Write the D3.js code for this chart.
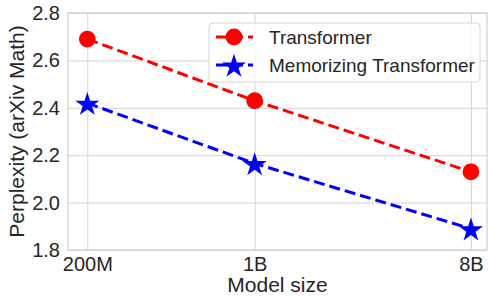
<!DOCTYPE html>
<html>
<head>
<meta charset="utf-8">
<script src="https://cdn.jsdelivr.net/npm/d3@7"></script>
<style>
  body { margin: 0; background: #fff; }
  text { font-family: Arial, "Liberation Sans", sans-serif; fill: #262626; }
</style>
</head>
<body>
<div id="chart"></div>
<script>
// data
var sizes = [2e8, 1e9, 8e9];
var sizeLabels = ["200M", "1B", "8B"];
var transformer = [2.69, 2.43, 2.13];
var memorizing = [2.42, 2.165, 1.89];
var yTicks = [1.8, 2.0, 2.2, 2.4, 2.6, 2.8];
var seriesNames = ["Transformer", "Memorizing Transformer"];

var W = 488, H = 296;
var margin = {top: 13, right: 1, bottom: 46, left: 68};
var width = W - margin.left - margin.right;
var height = H - margin.top - margin.bottom;

var x = d3.scaleLog().domain([2e8 / 1.204, 8e9 * 1.167]).range([0, width]);
var y = d3.scaleLinear().domain([1.8, 2.8]).range([height, 0]);

var svg = d3.select("#chart").append("svg")
    .attr("width", W)
    .attr("height", H);

var g = svg.append("g")
    .attr("transform", "translate(" + margin.left + "," + margin.top + ")");

// gridlines
g.append("g")
    .attr("class", "grid")
    .attr("transform", "translate(0," + height + ")")
    .call(d3.axisBottom(x).tickValues(sizes).tickSize(-height).tickFormat(""));
g.append("g")
    .attr("class", "grid")
    .call(d3.axisLeft(y).tickValues(yTicks).tickSize(-width).tickFormat(""));
g.selectAll(".grid line").attr("stroke", "#d6d6d6").attr("stroke-width", 1);
g.selectAll(".grid path").remove();

// spines
g.append("rect")
    .attr("width", width)
    .attr("height", height)
    .attr("fill", "none")
    .attr("stroke", "#d0d0d0")
    .attr("stroke-width", 1.2);

// tick labels
var xAxis = g.append("g")
    .attr("transform", "translate(0," + height + ")")
    .call(d3.axisBottom(x).tickValues(sizes).tickSize(0).tickPadding(7)
        .tickFormat(function(d, i) { return sizeLabels[i]; }));
var yAxis = g.append("g")
    .call(d3.axisLeft(y).tickValues(yTicks).tickSize(0).tickPadding(8)
        .tickFormat(d3.format(".1f")));
[xAxis, yAxis].forEach(function(a) {
    a.select(".domain").remove();
    a.selectAll("text").style("font-size", "20px").attr("fill", "#262626");
});

// axis titles
svg.append("text")
    .attr("x", margin.left + width / 2)
    .attr("y", 292)
    .attr("text-anchor", "middle")
    .style("font-size", "21px")
    .text("Model size");
svg.append("text")
    .attr("transform", "translate(24," + (margin.top + height / 2) + ") rotate(-90)")
    .attr("text-anchor", "middle")
    .style("font-size", "21px")
    .text("Perplexity (arXiv Math)");

var line = d3.line()
    .x(function(d, i) { return x(sizes[i]); })
    .y(function(d) { return y(d); });

var star = d3.symbol().type(d3.symbolStar).size(180);

function drawSeries(values, color, marker) {
    g.append("path")
        .datum(values)
        .attr("d", line)
        .attr("fill", "none")
        .attr("stroke", color)
        .attr("stroke-width", 3)
        .attr("stroke-dasharray", "11,5");
    values.forEach(function(v, i) {
        if (marker == "circle") {
            g.append("circle")
                .attr("cx", x(sizes[i]))
                .attr("cy", y(v))
                .attr("r", 8.4)
                .attr("fill", color);
        } else {
            g.append("path")
                .attr("d", star())
                .attr("transform", "translate(" + x(sizes[i]) + "," + (y(v) + 1.5) + ")")
                .attr("fill", color);
        }
    });
}

drawSeries(transformer, "#ff0000", "circle");
drawSeries(memorizing, "#0000ff", "star");

// legend
var leg = svg.append("g").attr("transform", "translate(209,23)");
leg.append("rect")
    .attr("width", 271)
    .attr("height", 59)
    .attr("rx", 4)
    .attr("fill", "#fff")
    .attr("fill-opacity", 0.85)
    .attr("stroke", "#d6d6d6");

var legColors = ["#ff0000", "#0000ff"];
seriesNames.forEach(function(name, i) {
    var row = leg.append("g").attr("transform", "translate(0," + (14 + i * 28) + ")");
    row.append("line")
        .attr("x1", 7).attr("x2", 44)
        .attr("stroke", legColors[i])
        .attr("stroke-width", 3)
        .attr("stroke-dasharray", "11,5");
    if (i == 0) {
        row.append("circle").attr("cx", 25).attr("r", 8.4).attr("fill", legColors[i]);
    } else {
        row.append("path").attr("d", star()).attr("transform", "translate(25,1.5)").attr("fill", legColors[i]);
    }
    row.append("text")
        .attr("x", 60)
        .attr("y", 7)
        .style("font-size", "19px")
        .text(name);
});
</script>
</body>
</html>
